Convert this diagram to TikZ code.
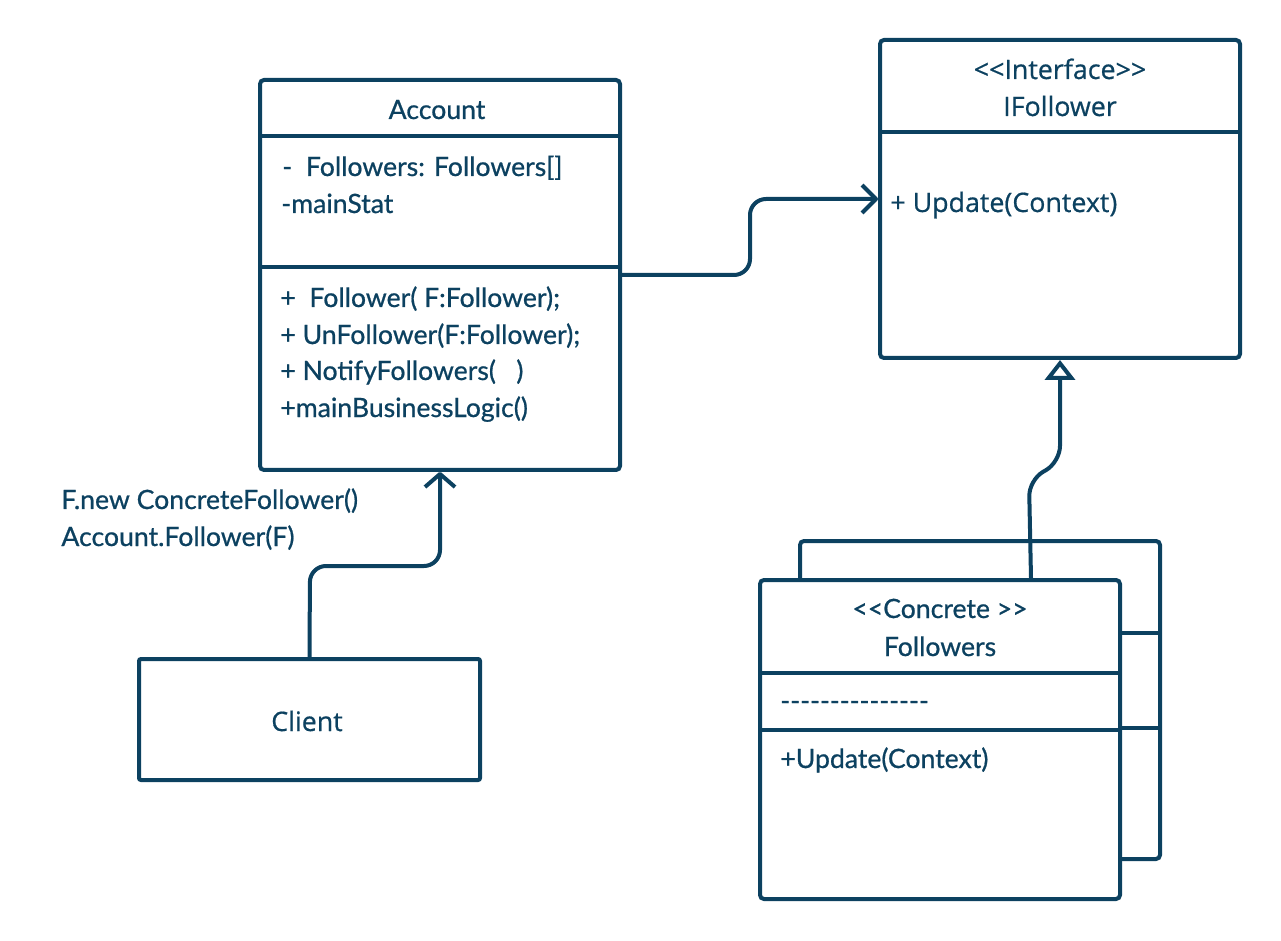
\documentclass[tikz,border=0pt]{standalone}
\usepackage{fontspec}
\setmainfont{Lato}[FakeBold=0.7]
\newfontfamily\osans{Open Sans}[FakeBold=0.6]
\usetikzlibrary{arrows.meta,fit,calc}
\definecolor{ink}{RGB}{12,65,96}
\newcommand\dlt{<\kern0pt<}
\newcommand\dgt{>\kern0pt>}
\newcommand\hy{-\kern0pt}
\begin{document}
\begin{tikzpicture}[x=0.5pt,y=-0.5pt,
  box/.style={draw=ink, line width=2pt, rounded corners=2pt, fill=white, inner sep=0pt},
  div/.style={draw=ink, line width=1.6pt},
  txt/.style={text=ink, inner sep=0pt, font=\fontsize{13.3}{15}\selectfont},
  otxt/.style={text=ink, inner sep=0pt, font=\osans\fontsize{13.4}{15}\selectfont},
  conn/.style={draw=ink, line width=2pt, rounded corners=8pt, line join=round}]
\useasboundingbox (0,0) rectangle (1281,941);

% Account
\node[box, fit={(260,80)(620,470)}] (acc) {};
\draw[div] (260,136) -- (620,136);
\draw[div] (260,267) -- (620,267);
\node[txt, anchor=base] (accT) at (437,119) {Account};
\node[txt, anchor=base west] (a1) at (282,176) {\hy\ \ Followers: Followers[]};
\node[txt, anchor=base west] (a2) at (281,213) {\hy mainStat};
\node[txt, anchor=base west] (m1) at (280,307) {+\ \ Follower( F:Follower);};
\node[txt, anchor=base west] (m2) at (280,344) {+ UnFollower(F:Follower);};
\node[txt, anchor=base west] (m3) at (280,380) {+ NotifyFollowers(\ \ \ )};
\node[txt, anchor=base west] (m4) at (280,417) {+mainBusinessLogic()};

% IFollower
\node[box, fit={(880,40)(1240,358)}] (ifol) {};
\draw[div] (880,132) -- (1240,132);
\node[otxt, anchor=base] (iS) at (1060,79) {\dlt Interface\dgt};
\node[otxt, anchor=base] (iT) at (1060,116) {IFollower};
\node[otxt, anchor=base west] (iM) at (890,212) {+ Update(Context)};

% Concrete followers (back and front)
\node[box, fit={(800,541)(1160,859)}] (cfb) {};
\draw[div] (800,633) -- (1160,633);
\draw[div] (800,728) -- (1160,728);
\node[box, fit={(760,580)(1120,899)}] (cf) {};
\draw[div] (760,673) -- (1120,673);
\draw[div] (760,730) -- (1120,730);
\node[txt, anchor=base] (cS) at (940,618) {\dlt Concrete \dgt};
\node[txt, anchor=base] (cT) at (940,656) {Followers};
\node[txt, anchor=base west] (cA) at (780,710) {\hy\hy\hy\hy\hy\hy\hy\hy\hy\hy\hy\hy\hy\hy\hy};
\node[txt, anchor=base west] (cM) at (780,768) {+Update(Context)};

% Client
\node[box, rounded corners=1pt, fit={(139,659)(480,780)}] (cl) {};
\node[otxt, anchor=base] (clT) at (307,731) {Client};
\node[txt, anchor=base west] (l1) at (61,509) {F.new ConcreteFollower()};
\node[txt, anchor=base west] (l2) at (61,546) {Account.Follower(F)};

% connectors
\draw[conn, -{Straight Barb[length=7pt,width=14pt,line join=round]}]
  (acc.east) -- (750,275) -- (750,199) -- (ifol.west);
\draw[conn, -{Straight Barb[length=6.5pt,width=15pt,line join=round]}]
  (cl.north) -- (310,566) -- (440,566) -- (acc.south);
\draw[conn, -{Triangle[open, length=10pt, width=15pt, fill=white]}]
  ($(cf.north west)!0.75!(cf.north east)$) -- (1029,480) -- (1060,462) -- (ifol.south);
\end{tikzpicture}
\end{document}
